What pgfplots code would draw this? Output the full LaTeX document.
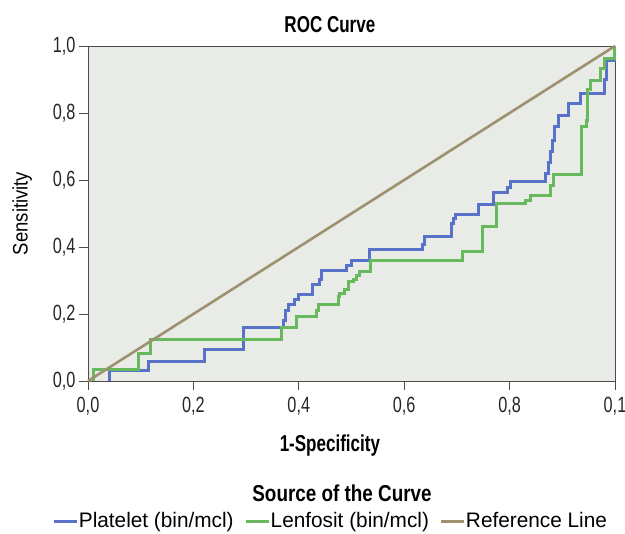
\documentclass[border=0pt]{standalone}
\usepackage{pgfplots}
\pgfplotsset{compat=1.18}
\usepackage{fontspec}
\setmainfont{Liberation Sans}[FakeStretch=0.82]
\newfontfamily\condfont{Liberation Sans}[FakeStretch=0.74]
\newfontfamily\midfont{Liberation Sans}[FakeStretch=0.82]
\newfontfamily\widefont{Liberation Sans}[FakeStretch=0.88]
\newfontfamily\legfont{Liberation Sans}[FakeStretch=0.99]
\definecolor{rocblue}{RGB}{88,114,200}
\definecolor{rocgreen}{RGB}{104,184,94}
\definecolor{rocref}{RGB}{156,146,112}
\definecolor{rocbg}{RGB}{233,235,231}

\begin{document}
\begin{tikzpicture}
  \useasboundingbox (-88pt,-153pt) rectangle (537pt,381pt);
  \begin{axis}[
    width=527pt, height=335pt, scale only axis,
    xmin=0, xmax=1, ymin=0, ymax=1,
    axis background/.style={fill=rocbg},
    axis line style={draw=black!70, line width=0.9pt},
    tick style={draw=black!70, line width=0.9pt},
    tick align=outside, tick pos=left, major tick length=9pt,
    xtick={0,0.2,0.4,0.6,0.8,1},
    xticklabels={{0,0},{0,2},{0,4},{0,6},{0,8},{0,1}},
    ytick={0,0.2,0.4,0.6,0.8,1},
    yticklabels={{0,0},{0,2},{0,4},{0,6},{0,8},{1,0}},
    ticklabel style={font=\condfont\fontsize{22}{23}\selectfont, text=black!85},
    xticklabel style={yshift=-4pt},
    title={ROC Curve},
    title style={font=\condfont\bfseries\fontsize{23}{24}\selectfont,
      at={(axis description cs:0.459,1)}, yshift=4pt},
    xlabel={1-Specificity},
    xlabel style={font=\condfont\bfseries\fontsize{23}{24}\selectfont,
      at={(ticklabel cs:0.459)}, anchor=near ticklabel, yshift=-12pt},
    ylabel={Sensitivity},
    ylabel style={font=\widefont\fontsize{21}{22}\selectfont, yshift=14pt},
    legend columns=3,
    legend style={draw=none, fill=none, at={(axis description cs:0.461,-0.418)}, anchor=center,
      font=\legfont\fontsize{21}{22}\selectfont,
      /tikz/every odd column/.append style={column sep=-2pt},
      /tikz/every even column/.append style={column sep=9pt}},
    legend image code/.code={\draw[#1, line width=3pt] (0pt,0pt) -- (23pt,0pt);},
    clip=false,
  ]

  % Platelet
  \addplot[const plot, rocblue, line width=3pt] coordinates {
    (0.04,0) (0.04,0.03) (0.114,0.058) (0.222,0.093) (0.296,0.159)
    (0.371,0.182) (0.375,0.21) (0.381,0.227) (0.391,0.244) (0.400,0.257)
    (0.426,0.289) (0.440,0.304) (0.443,0.331) (0.491,0.344) (0.500,0.361)
    (0.535,0.394) (0.635,0.406) (0.639,0.431) (0.690,0.471) (0.693,0.486)
    (0.698,0.496) (0.741,0.528) (0.769,0.562) (0.796,0.578) (0.801,0.595)
    (0.868,0.620) (0.873,0.652) (0.878,0.684) (0.882,0.719) (0.886,0.761)
    (0.893,0.794) (0.911,0.829) (0.935,0.859) (0.981,0.899) (0.984,0.958)
    (1.0,1.0)
  };
  \addlegendentry{Platelet (bin/mcl)}

  % Lenfosit
  \addplot[const plot, rocgreen, line width=3pt] coordinates {
    (0.01,0) (0.01,0.035) (0.095,0.083) (0.119,0.124) (0.367,0.159)
    (0.396,0.192) (0.434,0.209) (0.437,0.227) (0.475,0.252) (0.478,0.262)
    (0.486,0.272) (0.494,0.296) (0.503,0.303) (0.510,0.314) (0.515,0.326)
    (0.537,0.361) (0.711,0.386) (0.748,0.461) (0.775,0.530) (0.831,0.540)
    (0.839,0.555) (0.877,0.585) (0.884,0.615) (0.937,0.761) (0.945,0.777)
    (0.947,0.869) (0.953,0.896) (0.973,0.933) (0.981,0.963) (1.0,1.0)
  };
  \addlegendentry{Lenfosit (bin/mcl)}

  % Reference line
  \addplot[rocref, line width=2.6pt] coordinates {(0,0) (1,1)};
  \addlegendentry{Reference Line}

  \node[font=\midfont\bfseries\fontsize{23}{24}\selectfont] at (axis description cs:0.482,-0.335) {Source of the Curve};
  \end{axis}
\end{tikzpicture}
\end{document}
